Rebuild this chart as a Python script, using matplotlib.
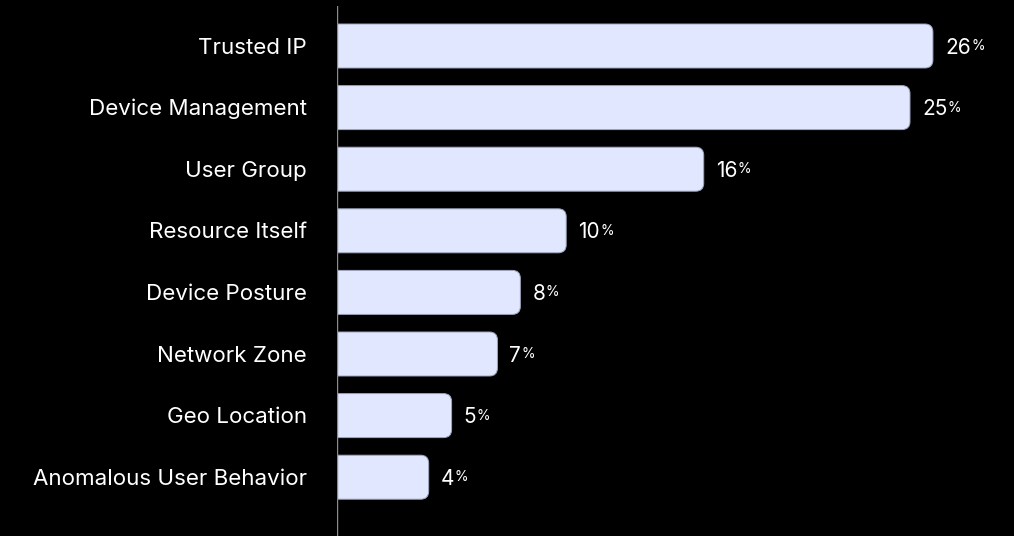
import matplotlib.pyplot as plt
from matplotlib.patches import FancyBboxPatch

# share of policies by condition type
categories = ['Trusted IP', 'Device Management', 'User Group', 'Resource Itself',
              'Device Posture', 'Network Zone', 'Geo Location', 'Anomalous User Behavior']
values = [26, 25, 16, 10, 8, 7, 5, 4]

bar_color = '#e0e7ff'
edge_color = '#9ea4bc'
text_color = '#ffffff'
font = 'Inter'

W, H = 1014, 536
fig = plt.figure(figsize=(W / 100, H / 100), dpi=100, facecolor='black')

# axes placed in pixel terms: left edge at the divider line
left_px, top_px = 337, 6
ax = fig.add_axes([left_px / W, 0, 1 - left_px / W, (H - top_px) / H])
ax.set_facecolor('black')

px_per_unit = 22.92        # px per percent
row_px = 61.6              # px between bar centres
first_px = 46              # centre of first bar from top
ax.set_xlim(0, (W - left_px) / px_per_unit)
ax.set_ylim((H - first_px) / row_px, (top_px - first_px) / row_px)

bar_h = 44 / row_px
r_x = 8 / px_per_unit
r_y = 8 / row_px

for i, (cat, v) in enumerate(zip(categories, values)):
    # rounded box that starts left of the axis so only the right corners show
    box = FancyBboxPatch((-1, i - bar_h / 2), v + 1, bar_h,
                         boxstyle=f'round,pad=0,rounding_size={r_x}',
                         mutation_aspect=r_y / r_x,
                         facecolor=bar_color, edgecolor=edge_color, linewidth=0.7,
                         clip_on=True, zorder=2)
    ax.add_patch(box)
    num = ax.annotate(str(v), xy=(v, i), xytext=(12, -1.5), textcoords='offset pixels',
                      ha='left', va='center', color=text_color, fontsize=15,
                      family=font)
    ax.annotate('%', xy=(1, 0.58), xycoords=num, xytext=(0.5, 0), textcoords='offset pixels',
                ha='left', va='center', color=text_color, fontsize=10, family=font)
    ax.annotate(cat, xy=(0, i), xytext=(-30, -1.5), textcoords='offset pixels',
                ha='right', va='center', color=text_color, fontsize=16.1,
                family=font, annotation_clip=False)

ax.axvline(0, color='#8c8c8c', linewidth=1, zorder=3)
for s in ax.spines.values():
    s.set_visible(False)
ax.set_xticks([])
ax.set_yticks([])

fig.savefig('out.png', dpi=100, facecolor='black')
